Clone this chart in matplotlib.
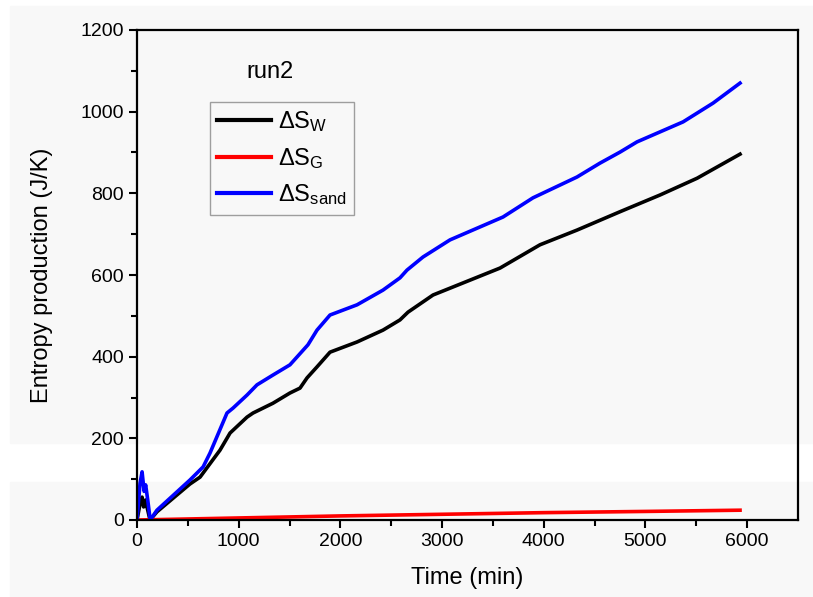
import numpy as np
import matplotlib.pyplot as plt
from matplotlib.patches import Rectangle

plt.rcParams['font.family'] = ['Liberation Sans', 'DejaVu Sans']
plt.rcParams['mathtext.fontset'] = 'custom'
plt.rcParams['mathtext.rm'] = 'Liberation Sans'
plt.rcParams['mathtext.it'] = 'Liberation Sans'

# values
t_w = [0, 30, 50, 65, 85, 100, 128, 196, 520, 620, 816, 915, 1082, 1141, 1337, 1504,
       1603, 1672, 1770, 1898, 2164, 2419, 2586, 2665, 2911, 3570, 3963, 4327, 4750,
       5144, 5508, 5930]
s_w = [0, 40, 56, 32, 49, 30, 0, 20, 88, 105, 171, 213, 252, 262, 286, 311,
       323, 348, 375, 411, 436, 465, 490, 509, 551, 617, 674, 710, 755,
       796, 837, 896]

t_sand = [0, 30, 50, 70, 85, 105, 130, 196, 521, 650, 718, 885, 944, 1082, 1180,
          1337, 1504, 1681, 1770, 1898, 2164, 2419, 2586, 2655, 2812, 3078, 3599,
          3894, 4327, 4553, 4750, 4917, 5370, 5665, 5930]
s_sand = [0, 90, 118, 70, 86, 50, 0, 24, 98, 130, 164, 262, 274, 306, 331,
          355, 380, 429, 465, 502, 527, 563, 593, 612, 644, 686, 742,
          789, 840, 874, 901, 926, 975, 1021, 1070]

t_g = [0, 1000, 2000, 3000, 4000, 5000, 5930]
s_g = [0, 5, 10, 14, 18, 21, 24]

fig = plt.figure(figsize=(8.13, 5.97), dpi=100, facecolor='white')
bg = '#f8f8f8'
W, H = 813, 597
fig.add_artist(Rectangle((10 / W, (597 - 443) / H), 1, (443 - 6) / H,
                         transform=fig.transFigure, color=bg, zorder=-10))
fig.add_artist(Rectangle((10 / W, 0), 1, (597 - 482) / H,
                         transform=fig.transFigure, color=bg, zorder=-10))

ax = fig.add_axes([137 / W, (597 - 520) / H, (798 - 137) / W, (520 - 30) / H])
ax.set_facecolor('none')

ax.plot(t_w, s_w, color='black', lw=2.6, label=r'$\Delta$S$_\mathregular{W}$')
ax.plot(t_g, s_g, color='red', lw=2.6, label=r'$\Delta$S$_\mathregular{G}$')
ax.plot(t_sand, s_sand, color='blue', lw=2.6, label=r'$\Delta$S$_\mathregular{sand}$')

ax.set_xlim(0, 6500)
ax.set_ylim(0, 1200)
ax.set_xticks([0, 1000, 2000, 3000, 4000, 5000, 6000])
ax.set_xticks(np.arange(500, 6500, 1000), minor=True)
ax.set_yticks([0, 200, 400, 600, 800, 1000, 1200])
ax.set_yticks(np.arange(100, 1200, 200), minor=True)
ax.tick_params(which='major', direction='out', length=6, width=1.5, labelsize=14)
ax.tick_params(which='minor', direction='out', length=4, width=1.5)
for sp in ax.spines.values():
    sp.set_linewidth(1.6)

ax.set_xlabel('Time (min)', fontsize=17, labelpad=12)
ax.set_ylabel('Entropy production (J/K)', fontsize=17, labelpad=20)

ax.text(0.166, 0.914, 'run2', transform=ax.transAxes, fontsize=17,
        ha='left', va='center')

leg = ax.legend(loc='upper left', bbox_to_anchor=(0.110, 0.853), fontsize=17,
                frameon=True, fancybox=False, handlelength=2.3,
                labelspacing=0.5, borderpad=0.3, handletextpad=0.3,
                borderaxespad=0)
leg.get_frame().set_edgecolor('#888888')
leg.get_frame().set_linewidth(1.0)
leg.get_frame().set_facecolor(bg)
for ln in leg.get_lines():
    ln.set_linewidth(3)

fig.savefig('out.png', dpi=100, facecolor=fig.get_facecolor())
